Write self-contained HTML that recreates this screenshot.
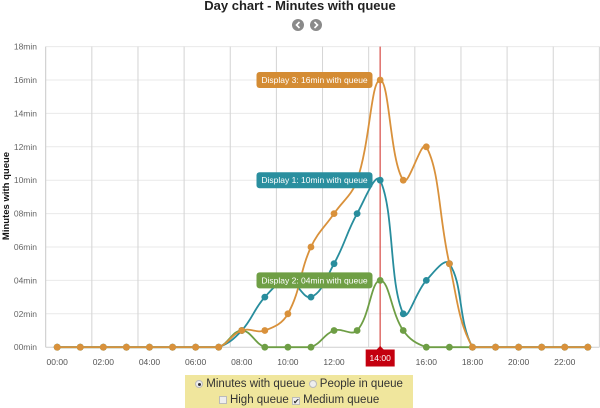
<!DOCTYPE html>
<html><head><meta charset="utf-8">
<style>
html,body{margin:0;padding:0;background:#fff;}
body{width:600px;height:408px;overflow:hidden;position:relative;font-family:"Liberation Sans",sans-serif;}
svg{position:absolute;left:0;top:0;}
.legend{position:absolute;left:185px;top:375px;width:228px;height:33px;background:#f0e69d;font-size:11.5px;color:#333;text-align:center;line-height:16px;}
.legend .r1{margin-top:1px;}
.rad{display:inline-block;width:8px;height:8px;border-radius:50%;background:#eee;border:1px solid #bbb;vertical-align:-1px;position:relative;box-sizing:border-box;}
.rad.on:after{content:"";position:absolute;left:2px;top:2px;width:3px;height:3px;border-radius:50%;background:#333;}
.chk{display:inline-block;width:8px;height:8px;background:#eee;border:1px solid #bbb;vertical-align:-1px;box-sizing:border-box;position:relative;font-size:8px;line-height:7px;}
</style></head><body>
<svg id="c" width="600" height="408" viewBox="0 0 600 408" xmlns="http://www.w3.org/2000/svg">
<text x="300" y="10" text-anchor="middle" font-family="Liberation Sans, sans-serif" font-size="13" font-weight="bold" fill="#222">Day chart - Minutes with queue</text>
<circle cx="298" cy="25" r="6" fill="#8a8a8a"/>
<path d="M299.5 22 L296.5 25 L299.5 28" stroke="#fff" stroke-width="1.6" fill="none"/>
<circle cx="316" cy="25" r="6" fill="#8a8a8a"/>
<path d="M314.5 22 L317.5 25 L314.5 28" stroke="#fff" stroke-width="1.6" fill="none"/>
<g id="grid"></g>
<text transform="translate(9,196) rotate(-90)" text-anchor="middle" font-family="Liberation Sans, sans-serif" font-size="9.5" font-weight="bold" fill="#111">Minutes with queue</text>
<g id="series"></g>
</svg>
<div class="legend">
<div class="r1"><span class="rad on"></span> Minutes with queue <span class="rad"></span> People in queue</div>
<div><span class="chk"></span> High queue <span class="chk">&#10004;</span> Medium queue</div>
</div>
<script>
(function(){
var NS="http://www.w3.org/2000/svg";
var svg=document.getElementById('c');
var grid=document.getElementById('grid');
var ser=document.getElementById('series');
function el(tag,attrs,parent,text){var e=document.createElementNS(NS,tag);for(var k in attrs)e.setAttribute(k,attrs[k]);if(text!==undefined)e.textContent=text;(parent||svg).appendChild(e);return e;}
var L=45.7,W=23.07,c0=57.2,y0=347.2,pm=16.7,top=y0-18*pm,R=599.4;
function X(i){return c0+i*W;}
function Y(v){return y0-v*pm;}
for(var v=0;v<=18;v+=2){
  el('line',{x1:L,x2:R,y1:Y(v),y2:Y(v),stroke:v==0?'#cfcfcf':'#e9e9e9','stroke-width':1},grid);
  var s=(v<10?'0':'')+v+'min';
  el('text',{x:37,y:Y(v)+3,'text-anchor':'end','font-family':'Liberation Sans, sans-serif','font-size':'8.5',fill:'#666'},grid,s);
}
for(var k=0;k<=12;k++){
  var x=L+k*2*W;
  el('line',{x1:x,x2:x,y1:top,y2:y0,stroke:k==0?'#c8c8c8':'#d4d4d4','stroke-width':1},grid);
}
for(var h=0;h<24;h+=2){
  if(h==14)continue;
  var s=(h<10?'0':'')+h+':00';
  el('text',{x:X(h),y:365,'text-anchor':'middle','font-family':'Liberation Sans, sans-serif','font-size':'8.5',fill:'#555'},grid,s);
}
el('line',{x1:X(14),x2:X(14),y1:top,y2:y0+2,stroke:'#d9534f','stroke-width':1.5,'stroke-opacity':0.85},grid);
el('path',{d:'M'+(X(14)-4)+' 350 L'+X(14)+' 346 L'+(X(14)+4)+' 350 Z',fill:'#c4000f'},grid);
el('rect',{x:X(14)-14.5,y:349.5,width:29,height:17,fill:'#c4000f'},grid);
el('text',{x:X(14),y:361,'text-anchor':'middle','font-family':'Liberation Sans, sans-serif','font-size':'8.5',fill:'#fff'},grid,'14:00');

function zeros(){var a=[];for(var i=0;i<24;i++)a.push(0);return a;}
var green=zeros(); green[8]=1;green[12]=1;green[13]=1;green[14]=4;green[15]=1;
var teal=zeros(); teal[8]=1;teal[9]=3;teal[10]=4;teal[11]=3;teal[12]=5;teal[13]=8;teal[14]=10;teal[15]=2;teal[16]=4;teal[17]=5;
var orange=zeros(); orange[8]=1;orange[9]=1;orange[10]=2;orange[11]=6;orange[12]=8;orange[13]=10;orange[14]=16;orange[15]=10;orange[16]=12;orange[17]=5;

function spline(p0,p1,p2,t){
  var d01=Math.sqrt(Math.pow(p1.x-p0.x,2)+Math.pow(p1.y-p0.y,2));
  var d12=Math.sqrt(Math.pow(p2.x-p1.x,2)+Math.pow(p2.y-p1.y,2));
  var fa=t*d01/(d01+d12),fb=t*d12/(d01+d12);
  if(isNaN(fa))fa=0;if(isNaN(fb))fb=0;
  return {inner:{x:p1.x-fa*(p2.x-p0.x),y:p1.y-fa*(p2.y-p0.y)},outer:{x:p1.x+fb*(p2.x-p0.x),y:p1.y+fb*(p2.y-p0.y)}};
}
function clampY(y){if(y>y0)return y0;if(y<top)return top;return y;}
function draw(data,color){
  var pts=data.map(function(v,i){return {x:X(i),y:Y(v)};});
  var cps=pts.map(function(p,i){
    var prev=pts[i-1]||p,next=pts[i+1]||p;
    var c=spline(prev,p,next,0.4);
    c.inner.y=clampY(c.inner.y);c.outer.y=clampY(c.outer.y);
    return c;
  });
  var d='M'+pts[0].x.toFixed(2)+' '+pts[0].y.toFixed(2);
  for(var i=1;i<pts.length;i++){
    var a=cps[i-1].outer,b=cps[i].inner,p=pts[i];
    d+=' C'+a.x.toFixed(2)+' '+a.y.toFixed(2)+' '+b.x.toFixed(2)+' '+b.y.toFixed(2)+' '+p.x.toFixed(2)+' '+p.y.toFixed(2);
  }
  el('path',{d:d,stroke:color,'stroke-width':1.8,fill:'none'},ser);
  pts.forEach(function(p){el('circle',{cx:p.x,cy:p.y,r:3.4,fill:color},ser);});
}
draw(green,'#6e9e45');
draw(teal,'#288d9d');
draw(orange,'#d9913b');

function label(v,txt,color){
  var y=Y(v);
  el('rect',{x:256.5,y:y-8,width:116,height:16,rx:3,ry:3,fill:color},ser);
  el('text',{x:314.5,y:y+3,'text-anchor':'middle','font-family':'Liberation Sans, sans-serif','font-size':'8.5',fill:'#fff'},ser,txt);
}
label(16,'Display 3: 16min with queue','#d48c34');
label(10,'Display 1: 10min with queue','#2a8f9f');
label(4,'Display 2: 04min with queue','#6f9f45');
})();
</script>
</body></html>
